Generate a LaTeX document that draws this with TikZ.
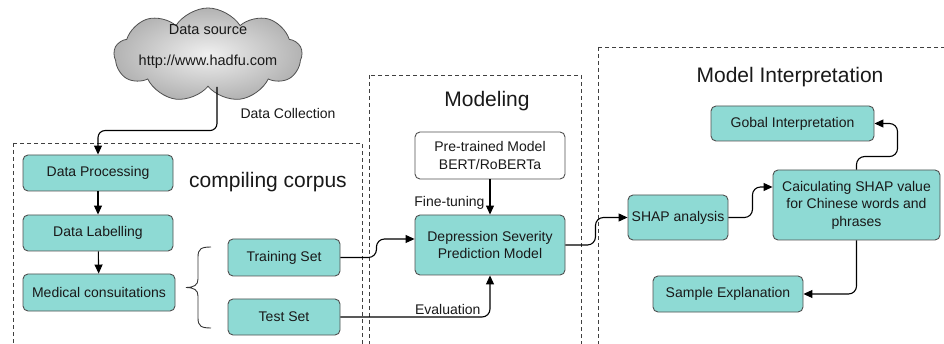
\documentclass[tikz,border=0pt]{standalone}
\usepackage{fontspec}
\setmainfont{Liberation Sans}
\usetikzlibrary{arrows.meta,shapes.symbols,calc}
\definecolor{tealbox}{RGB}{142,218,212}
\definecolor{boxline}{RGB}{80,80,80}
\definecolor{txt}{RGB}{25,25,25}
\tikzset{
  tbox/.style={draw=boxline, line width=0.9pt, rounded corners=5pt, fill=tealbox, align=center,
    font=\fontsize{14}{17.5}\selectfont, text=txt, inner sep=2pt},
  wbox/.style={tbox, fill=white},
  arr/.style={draw=black, line width=1.1pt, -{Triangle[length=9pt,width=8pt]}},
  region/.style={draw=black!75, line width=0.8pt, dash pattern=on 4pt off 3pt},
  lbl/.style={font=\fontsize{14}{17}\selectfont, text=txt, inner sep=1pt},
  ttl/.style={font=\fontsize{21}{24}\selectfont, text=txt, inner sep=1pt},
}
\begin{document}
\begin{tikzpicture}[x=1pt,y=-1pt]
\clip (0,0) rectangle (944,344);
\fill[white] (0,0) rectangle (944,344);
% regions
\draw[region] (13,143) rectangle (362,370);
\draw[region] (369,75) rectangle (581,370);
\draw[region] (598,47) rectangle (970,370);
% cloud
\node[cloud, cloud puffs=9, cloud puff arc=115, aspect=2.1, draw=boxline, line width=0.8pt,
  minimum width=188pt, minimum height=94pt, inner sep=0pt,
  inner color=gray!12, outer color=gray!60] (cloud) at (208,55) {};
\node[lbl, font=\fontsize{14.5}{17}\selectfont] (ds) at (208,30) {Data source};
\node[lbl, font=\fontsize{14.5}{17}\selectfont] (url) at (208,62) {http://www.hadfu.com};
% titles
\node[ttl] (cc) at (268,182) {compiling corpus};
\node[ttl] (mt) at (487,101) {Modeling};
\node[ttl] (it) at (790,77) {Model Interpretation};
% left boxes
\node[tbox, minimum width=150pt, minimum height=36pt] (dp) at (98,173) {Data Processing};
\node[tbox, minimum width=150pt, minimum height=36pt] (dl) at (98,233) {Data Labelling};
\node[tbox, minimum width=152pt, minimum height=37pt] (mc) at (99,292.5) {Medical consuitations};
\node[tbox, minimum width=112pt, minimum height=37pt] (ts) at (284,257.5) {Training Set};
\node[tbox, minimum width=112pt, minimum height=36pt] (te) at (284,317) {Test Set};
% brace
\draw[line width=0.9pt, black!80] (211,247) .. controls (201,247) and (198,249) .. (198,257)
  -- (198,279) .. controls (198,285) and (194,287.5) .. (186,287.5)
  .. controls (194,287.5) and (198,290) .. (198,296)
  -- (198,318) .. controls (198,326) and (201,328) .. (211,328);
% modeling boxes
\node[wbox, minimum width=150pt, minimum height=47pt] (pm) at (490,155.5) {Pre-trained Model\\BERT/RoBERTa};
\node[tbox, minimum width=150pt, minimum height=60pt] (dm) at (490,245) {Depression Severity\\Prediction Model};
% interpretation boxes
\node[tbox, minimum width=163pt, minimum height=35pt] (gi) at (792.5,123.5) {Gobal Interpretation};
\node[tbox, minimum width=100pt, minimum height=45pt, inner sep=1pt] (sa) at (678,217.5) {SHAP analysis};
\node[tbox, minimum width=167pt, minimum height=70pt] (cs) at (856.5,205) {Caiculating SHAP value\\for Chinese words and\\phrases};
\node[tbox, minimum width=150pt, minimum height=36pt] (se) at (728,294) {Sample Explanation};
% connectors
\draw[arr, rounded corners=7pt] ([xshift=9pt]cloud.south) |- ([yshift=24pt]dp.north) -- (dp.north);
\node[lbl] (dc) at (288,113) {Data Collection};
\draw[arr] (dp) -- (dl);
\draw[arr] (dl) -- (mc);
\draw[arr, rounded corners=8pt] (ts.east) -- ++(36,0) |- ([yshift=6pt]dm.west);
\draw[arr, rounded corners=8pt] (te.east) -| (dm.south)
  node[lbl, pos=0.5, anchor=south east, xshift=-8pt, yshift=1pt] (ev) {Evaluation};
\draw[arr] (pm) -- (dm) node[lbl, pos=0.67, left=4pt] (ft) {Fine-tuning};
\draw[arr, rounded corners=8pt] (dm.east) -- ++(30,0) |- (sa.west);
\draw[arr, rounded corners=8pt] (sa.east) -- ++(24,0) |- ([yshift=18pt]cs.west);
\draw[arr, rounded corners=8pt] (cs.north) |- ++(41,-13) |- (gi.east);
\draw[arr, rounded corners=8pt] (cs.south) |- (se.east);
\end{tikzpicture}
\end{document}
